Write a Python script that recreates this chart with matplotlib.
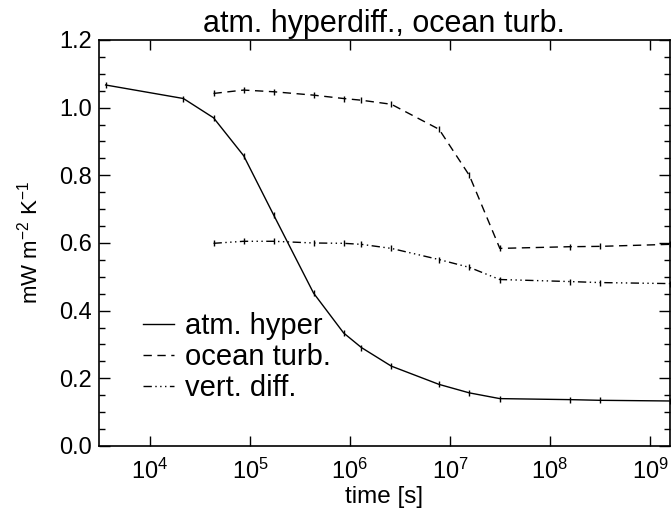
import matplotlib
matplotlib.use('Agg')
import matplotlib.pyplot as plt
from matplotlib.lines import Line2D
from matplotlib.ticker import LogLocator, NullLocator, MultipleLocator, FormatStrFormatter

plt.rcParams['font.family'] = ['Liberation Sans', 'DejaVu Sans']
plt.rcParams['mathtext.fontset'] = 'custom'
plt.rcParams['mathtext.rm'] = 'Liberation Sans'
plt.rcParams['mathtext.it'] = 'Liberation Sans'
plt.rcParams['mathtext.default'] = 'regular'

# time [s]
t_atm = [3.6e3, 2.16e4, 4.32e4, 8.64e4, 1.73e5, 4.32e5, 8.64e5, 1.3e6, 2.59e6,
         7.78e6, 1.56e7, 3.15e7, 1.58e8, 3.15e8, 1.58e9]
atm_hyper = [1.067, 1.027, 0.970, 0.858, 0.682, 0.452, 0.334, 0.291, 0.236,
             0.182, 0.157, 0.140, 0.137, 0.135, 0.133]

t_ocn = [4.32e4, 8.64e4, 1.73e5, 4.32e5, 8.64e5, 1.3e6, 2.59e6, 7.78e6, 1.56e7,
         3.15e7, 1.58e8, 3.15e8, 1.58e9]
ocean_turb = [1.042, 1.052, 1.047, 1.037, 1.027, 1.022, 1.010, 0.936, 0.800,
              0.584, 0.589, 0.590, 0.596]
vert_diff = [0.599, 0.605, 0.605, 0.600, 0.599, 0.596, 0.584, 0.551, 0.528,
             0.492, 0.486, 0.483, 0.480]

labels = ['atm. hyper', 'ocean turb.', 'vert. diff.']
styles = ['-', (0, (6, 4)), (0, (6, 2.5, 1, 2.5, 1, 2.5, 1, 2.5))]

fig = plt.figure(figsize=(6.72, 5.16), dpi=100)
ax = fig.add_axes([0.1467, 0.1357, 0.8503, 0.7868])

lw = 1.0
series = [(t_atm, atm_hyper), (t_ocn, ocean_turb), (t_ocn, vert_diff)]
for (t, y), ls in zip(series, styles):
    ax.plot(t, y, color='black', lw=lw, ls=ls, marker='|', ms=4, mew=lw)

ax.set_xscale('log')
ax.set_xlim(10**3.486, 10**9.2)
ax.set_ylim(0, 1.2)
ax.xaxis.set_major_locator(LogLocator(base=10, numticks=20))
ax.xaxis.set_minor_locator(NullLocator())
ax.yaxis.set_major_locator(MultipleLocator(0.2))
ax.yaxis.set_minor_locator(MultipleLocator(0.05))
ax.yaxis.set_major_formatter(FormatStrFormatter('%.1f'))

ax.tick_params(which='both', direction='in', top=True, right=True,
               labelsize=17, width=1.0, pad=6)
ax.tick_params(axis='x', which='major', length=7, pad=9)
ax.tick_params(axis='y', which='major', length=8, pad=5)
ax.tick_params(axis='y', which='minor', length=4)
for s in ax.spines.values():
    s.set_linewidth(1.2)

ax.set_title('atm. hyperdiff., ocean turb.', fontsize=22, pad=6)
ax.set_xlabel('time [s]', fontsize=17.5, labelpad=2)
ax.set_ylabel('mW m$^{-2}$ K$^{-1}$', fontsize=16, labelpad=12)

handles = [Line2D([], [], color='black', lw=lw, ls=ls) for ls in styles]
ax.legend(handles, labels, loc='upper left', bbox_to_anchor=(0.078, 0.33),
          frameon=False, fontsize=21, handlelength=1.05, handletextpad=0.4,
          labelspacing=0.1, borderaxespad=0, borderpad=0)

fig.savefig('out.png', dpi=100)
